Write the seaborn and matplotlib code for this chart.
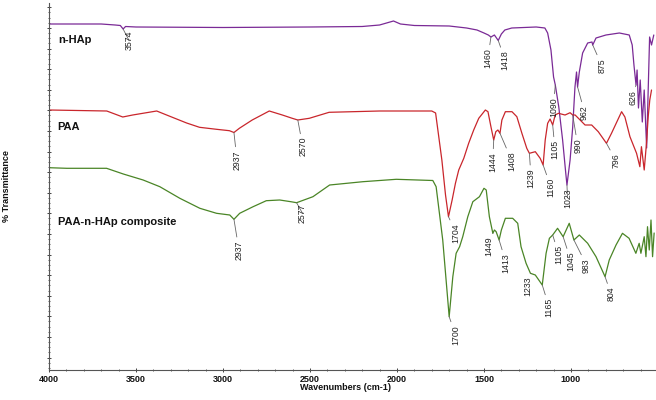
import numpy as np
import pandas as pd
import matplotlib
matplotlib.use("Agg")
import matplotlib.pyplot as plt
from matplotlib.ticker import MultipleLocator, FixedLocator
import seaborn as sns

# n-HAp spectrum (wavenumber, transmittance in arbitrary units)
wn_nhap = [4000, 3700, 3620, 3590, 3574, 3560, 3500, 3000, 2500, 2200,
           2100, 2020, 1980, 1900, 1700, 1600, 1540, 1500, 1475, 1460,
           1440, 1418, 1400, 1380, 1340, 1200, 1150, 1134, 1115, 1100,
           1090, 1070, 1048, 1030, 1023, 1005, 990, 977, 968, 962,
           952, 933, 904, 879, 875, 856, 799, 722, 665, 648,
           638, 626, 620, 612, 602, 590, 579, 565, 548, 537, 524]
t_nhap = [346, 346, 345, 344.5, 341, 343.5, 343, 342.5, 343, 343.5,
          345, 349, 346, 344.5, 344, 342, 340, 337, 335, 333,
          335, 329.5, 336, 340, 342, 343, 342, 337, 320, 293,
          285, 263, 230, 197, 185, 210, 243, 283, 298, 283,
          298, 317, 327, 328, 325, 332, 335, 337, 335, 325,
          305, 285, 300, 262, 290, 248, 280, 222, 333, 325, 335]

# PAA spectrum
wn_paa = [4000, 3668, 3576, 3519, 3381, 3324, 3209, 3135, 3037, 2963,
          2937, 2906, 2832, 2734, 2659, 2602, 2570, 2504, 2390, 2100,
          1800, 1778, 1742, 1721, 1704, 1683, 1664, 1645, 1616, 1588,
          1559, 1530, 1492, 1477, 1460, 1444, 1432, 1420, 1408, 1397,
          1377, 1339, 1311, 1282, 1254, 1239, 1205, 1177, 1160, 1148,
          1134, 1120, 1105, 1091, 1072, 1034, 1005, 990, 976, 919,
          881, 843, 796, 767, 709, 690, 661, 623, 604, 595,
          579, 566, 556, 547, 537]
t_paa = [260, 259, 253, 255, 259, 255, 247, 242.7, 240.7, 239.3,
         237.5, 241.7, 250, 259, 255, 251.7, 250, 251.7, 257.7, 259,
         259, 257, 210, 175, 153.3, 170, 186.7, 200, 211.7, 226.7,
         240, 251.7, 260, 258.3, 243.3, 230, 238.3, 240, 236.7, 250,
         258.3, 258.3, 253.3, 236.7, 221.7, 216.7, 218.3, 211.7, 205, 230,
         246.7, 251, 245, 255, 256.7, 255, 257.3, 255, 255, 245,
         245, 238.3, 226.7, 236.7, 258.3, 253, 233.3, 216.7, 203.3, 223.3,
         200, 226.7, 253.3, 270, 280]

# PAA-n-HAp composite spectrum
wn_comp = [4000, 3898, 3669, 3573, 3459, 3363, 3248, 3133, 3037, 2961,
           2937, 2904, 2827, 2751, 2674, 2610, 2577, 2483, 2387, 2196,
           2004, 1794, 1775, 1737, 1700, 1679, 1660, 1640, 1622, 1593,
           1564, 1526, 1500, 1487, 1469, 1449, 1440, 1430, 1413, 1400,
           1377, 1335, 1306, 1287, 1258, 1233, 1205, 1165, 1143, 1124,
           1105, 1077, 1045, 1010, 983, 952, 904, 856, 804, 780,
           741, 704, 666, 627, 608, 598, 579, 569, 560, 550,
           540, 531, 522]
t_comp = [202.3, 201.7, 201.7, 196, 190, 183.3, 171.7, 161.7, 156.7, 155,
          150.7, 156.7, 163.3, 169.3, 170, 168.3, 167.3, 173.3, 185, 188.3,
          190.7, 189.5, 183.3, 130, 53.3, 93.3, 116.7, 123.3, 133.3, 153.3,
          168.3, 173.3, 181.7, 180, 153.3, 136.7, 140, 138.3, 130, 140,
          151.7, 151.7, 146.7, 123.3, 106.7, 96.7, 95, 85, 116.7, 131.7,
          135, 141.7, 133.3, 146.7, 130, 135, 126.7, 113.3, 93.3, 110,
          125, 136.7, 131.7, 116.7, 126.7, 116.7, 133.3, 113.3, 143.3, 120,
          150, 113.3, 137]

# labelled peaks of each spectrum
peaks_nhap = [3574, 1460, 1418, 1090, 1023, 962, 875, 626]
peaks_paa = [2937, 2570, 1704, 1444, 1408, 1239, 1160, 1105, 990, 796]
peaks_comp = [2937, 2577, 1700, 1449, 1413, 1233, 1165, 1105, 1045, 983, 804]

# label text offsets from the peak (pixels: right, down)
offs_nhap = [(6, 2), (-3, 11), (7, 10), (-2, 12), (0.5, 3), (7, 18), (9, 13), (-3.5, 5)]
offs_paa = [(3, 17.5), (5, 17), (7.5, 6.5), (-1, 12), (12, 18), (1.7, 15),
            (8, 13), (2.3, 15), (5, 23), (9.5, 10)]
offs_comp = [(5, 21), (6, 1), (6.3, 8.3), (-4, 3.4), (7, 13), (-2.7, 3.4),
             (7, 13), (6, 10), (8, 15), (12.7, 18), (6, 10)]

cores = {
    "n-HAp": "#7a2a96",
    "PAA": "#c9262c",
    "PAA-n-HAp composite": "#4a8526",
}

dados = pd.concat([
    pd.DataFrame({"wn": wn_nhap, "t": t_nhap, "amostra": "n-HAp"}),
    pd.DataFrame({"wn": wn_paa, "t": t_paa, "amostra": "PAA"}),
    pd.DataFrame({"wn": wn_comp, "t": t_comp, "amostra": "PAA-n-HAp composite"}),
], ignore_index=True)

sns.set_theme(style="ticks")
plt.rcParams["font.family"] = ["Liberation Sans", "DejaVu Sans"]

fig = plt.figure(figsize=(6.56, 4.0), dpi=100)
ax = fig.add_axes([49 / 656, 30 / 400, 606 / 656, 367 / 400])

sns.lineplot(
    data=dados,
    x="wn",
    y="t",
    hue="amostra",
    palette=cores,
    sort=False,
    estimator=None,
    linewidth=0.9,
    legend=False,
    ax=ax
)

ax.set_xlim(4000, 517)
ax.set_ylim(0, 367)

ax.xaxis.set_major_locator(MultipleLocator(500))
ax.xaxis.set_minor_locator(MultipleLocator(100))
ax.yaxis.set_major_locator(FixedLocator(np.arange(362.7, 0, -20.6)))
ax.yaxis.set_minor_locator(FixedLocator(np.arange(362.7, 0, -5.15)))

ax.tick_params(which="major", direction="inout", length=3, width=0.7, color="#444")
ax.tick_params(which="minor", direction="inout", length=1.5, width=0.6, color="#444")
ax.tick_params(axis="x", labelsize=6.5, pad=2, labelcolor="#111")
ax.tick_params(axis="y", labelleft=False)
for lbl in ax.get_xticklabels():
    lbl.set_fontweight("bold")

sns.despine(ax=ax)
for lado in ["left", "bottom"]:
    ax.spines[lado].set_color("#555")
    ax.spines[lado].set_linewidth(0.8)

ax.set_xlabel("Wavenumbers (cm-1)", fontsize=6.5, fontweight="bold", color="#111")
ax.xaxis.set_label_coords(0.49, -0.035)
ax.set_ylabel("% Transmittance", fontsize=6.5, fontweight="bold", color="#111")
ax.yaxis.set_label_coords(-0.063, 0.5)

# nomes das amostras
ax.text(3945, 330, "n-HAp", fontsize=8, fontweight="bold", va="center", ha="left", color="#111")
ax.text(3952, 243, "PAA", fontsize=8, fontweight="bold", va="center", ha="left", color="#111")
ax.text(3948, 148, "PAA-n-HAp composite", fontsize=8, fontweight="bold",
        va="center", ha="left", color="#111")

# picos
for wn, tt, picos, offs in [(wn_nhap, t_nhap, peaks_nhap, offs_nhap),
                            (wn_paa, t_paa, peaks_paa, offs_paa),
                            (wn_comp, t_comp, peaks_comp, offs_comp)]:
    for pico, (dx, dy) in zip(picos, offs):
        y = tt[wn.index(pico)]
        ax.annotate(
            str(pico),
            xy=(pico, y),
            xytext=(dx * 0.72, -dy * 0.72),
            textcoords="offset points",
            rotation=90,
            ha="center",
            va="top",
            fontsize=6.3,
            color="#222",
            arrowprops=dict(arrowstyle="-", color="#666", lw=0.6,
                            shrinkA=0, shrinkB=0),
        )

fig.savefig("out.png", dpi=100)
plt.close(fig)
